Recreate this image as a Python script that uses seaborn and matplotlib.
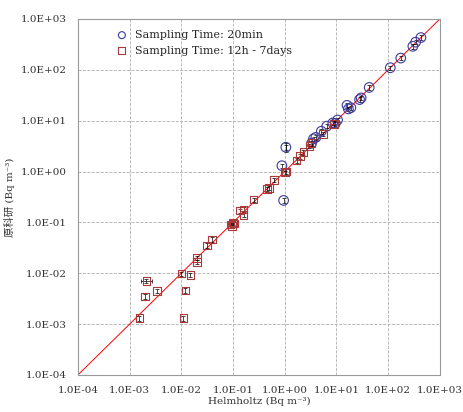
import matplotlib
matplotlib.use("Agg")
import matplotlib.pyplot as plt
import matplotlib.ticker as mticker
import seaborn as sns
import pandas as pd

# Sampling time 20 min (circles)
circ_x = [1.05, 0.88, 0.95, 3.3, 3.6, 4.0, 5.1, 6.5, 8.5, 9.5, 10.5, 16, 17, 19,
          28, 30, 43, 110, 175, 300, 340, 430]
circ_y = [3.0, 1.3, 0.27, 3.6, 4.4, 4.7, 6.2, 7.8, 9.0, 8.8, 10.3, 20, 17, 18,
          26, 28, 45, 110, 170, 290, 350, 430]

# Sampling time 12h - 7days (squares)
sq_x = [1.55e-3, 2.1e-3, 2.0e-3, 3.4e-3, 1.1e-2, 1.2e-2, 1.0e-2, 1.5e-2, 2.0e-2,
        2.0e-2, 3.1e-2, 3.9e-2, 0.09, 0.095, 0.1, 0.105, 0.135, 0.16, 0.16, 0.25,
        0.45, 0.5, 0.62, 1.0, 1.05, 1.7, 1.95, 2.3, 3.0, 3.3, 5.5, 9.0]
sq_y = [1.3e-3, 7.1e-3, 3.5e-3, 4.5e-3, 1.3e-3, 4.6e-3, 9.8e-3, 9.3e-3, 2.0e-2,
        1.65e-2, 3.5e-2, 4.6e-2, 0.09, 0.085, 0.1, 0.095, 0.17, 0.18, 0.14, 0.28,
        0.45, 0.48, 0.68, 0.95, 1.0, 1.65, 2.0, 2.4, 3.2, 3.6, 5.5, 8.5]

ticks = [1e-4, 1e-3, 1e-2, 1e-1, 1e0, 1e1, 1e2, 1e3]
lims = [ticks[0], ticks[-1]]

circ = pd.DataFrame({"x": circ_x, "y": circ_y})
sq = pd.DataFrame({"x": sq_x, "y": sq_y})

sns.set_theme(style="whitegrid")
plt.rcParams["font.family"] = ["DejaVu Serif", "Noto Sans CJK JP"]

fig, ax = plt.subplots(figsize=(4.64, 4.12), dpi=100)
fig.subplots_adjust(left=0.168, right=0.948, top=0.954, bottom=0.09)

ax.set_xscale("log")
ax.set_yscale("log")

# 1:1 line
ax.plot(lims, lims, color="red", lw=0.7, zorder=1)

# error bars
eb = dict(fmt="none", ecolor="black", elinewidth=0.5, capsize=1.2, capthick=0.5, zorder=2)
ax.errorbar(sq["x"], sq["y"], yerr=[sq["y"] * 0.1, sq["y"] * 0.1], **eb)
ax.errorbar([sq_x[1]], [sq_y[1]], xerr=[[sq_x[1] * 0.22], [sq_x[1] * 0.28]], **eb)
ax.errorbar(circ["x"], circ["y"], yerr=[circ["y"] * 0.1, circ["y"] * 0.1], **eb)
ax.errorbar([circ_x[0]], [circ_y[0]], yerr=[[circ_y[0] * 0.18], [circ_y[0] * 0.22]], **eb)

sns.scatterplot(data=circ, x="x", y="y", marker="o", s=48, facecolor="none",
                edgecolor="#3b3b9c", linewidth=0.8, ax=ax, zorder=3,
                label="Sampling Time: 20min")
sns.scatterplot(data=sq, x="x", y="y", marker="s", s=30, facecolor="none",
                edgecolor="#a83a3a", linewidth=0.8, ax=ax, zorder=3,
                label="Sampling Time: 12h - 7days")

ax.set_xlim(lims)
ax.set_ylim(lims)

fmt = mticker.FuncFormatter(lambda v, p: f"{v:.1E}")
ax.xaxis.set_major_locator(mticker.FixedLocator(ticks))
ax.yaxis.set_major_locator(mticker.FixedLocator(ticks))
ax.xaxis.set_major_formatter(fmt)
ax.yaxis.set_major_formatter(fmt)
ax.xaxis.set_minor_locator(mticker.NullLocator())
ax.yaxis.set_minor_locator(mticker.NullLocator())
ax.tick_params(labelsize=7.5, colors="#333333", pad=2)

ax.grid(True, which="major", linestyle="--", color="#b0b0b0", lw=0.6)
for s in ax.spines.values():
    s.set_color("#999999")
    s.set_linewidth(0.8)

ax.set_xlabel("Helmholtz (Bq m\u207b\u00b3)", fontsize=7.5, color="#333333", labelpad=1)
ax.set_ylabel("原科研 (Bq m\u207b\u00b3)", fontsize=7.5, color="#333333", labelpad=4)

leg = ax.legend(loc="upper left", frameon=False, fontsize=8, handletextpad=0.2,
                borderaxespad=0.6, bbox_to_anchor=(0.06, 1.0), labelspacing=0.5)
for h in leg.legend_handles:
    h.set_sizes([25])

plt.savefig("out.png", dpi=100)
